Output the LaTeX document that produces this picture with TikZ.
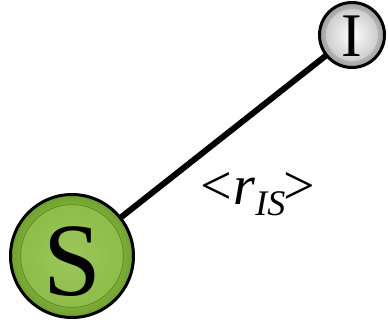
\documentclass[tikz,border=0pt]{standalone}
\usepackage{fontspec}
\setmainfont{Liberation Serif}
\definecolor{gLight}{RGB}{200,230,125}
\definecolor{gMid}{RGB}{145,192,75}
\definecolor{gDark}{RGB}{110,160,45}
\definecolor{iLight}{RGB}{255,255,255}
\definecolor{iMid}{RGB}{225,225,225}
\definecolor{iDark}{RGB}{160,160,160}
\begin{document}
\begin{tikzpicture}[x=1pt,y=1pt,
  ball/.style={circle,draw=black,line width=3pt,inner sep=0pt}]
\useasboundingbox (0,0) rectangle (388,322);
\coordinate (sc) at (72,66);
\coordinate (ic) at (352,287);
\draw[line width=6pt] (sc) -- (ic);
% S ball
\node[ball,minimum size=123pt,shading=radial,inner color=gLight,outer color=gDark] (S) at (sc) {};
\shade[inner color=gMid!90!white,outer color=gMid!90!gDark] (sc) circle (51);
\draw[gDark!90!black,line width=0.8pt] (sc) circle (51.5);
\node[font=\fontsize{104}{104}\selectfont,inner sep=0pt] (Slbl) at (72,60) {S};
% I ball
\node[ball,minimum size=65pt,shading=radial,inner color=iLight,outer color=iDark] (I) at (ic) {};
\shade[inner color=iLight,outer color=iMid!70!iDark] (ic) circle (26);
\node[font=\fontsize{62}{62}\selectfont,inner sep=0pt] (Ilbl) at (352,286) {I};
% label
\node[font=\fontsize{56}{56}\selectfont,inner sep=0pt] (lbl) at (258,128)
  {<\kern1pt\textit{r}\raisebox{-11pt}{\fontsize{36}{36}\selectfont\textit{IS}}\kern-2pt>};
\end{tikzpicture}
\end{document}
